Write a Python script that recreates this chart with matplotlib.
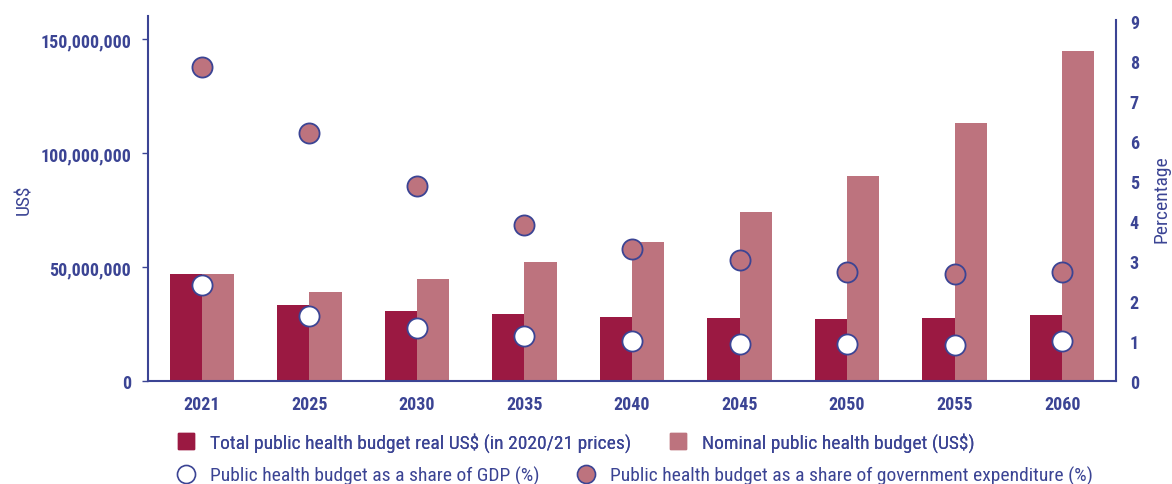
import matplotlib
matplotlib.use("Agg")
import matplotlib.pyplot as plt
from matplotlib.lines import Line2D
import numpy as np

years = ["2021", "2025", "2030", "2035", "2040", "2045", "2050", "2055", "2060"]
real_budget = [46.8e6, 33.2e6, 30.7e6, 29.4e6, 28.1e6, 27.6e6, 27.1e6, 27.5e6, 28.8e6]
nominal_budget = [46.8e6, 38.9e6, 44.7e6, 52.2e6, 61.0e6, 74.1e6, 89.8e6, 113.0e6, 144.6e6]
share_gdp = [2.39, 1.63, 1.33, 1.13, 1.01, 0.92, 0.92, 0.90, 0.99]
share_gov = [7.85, 6.19, 4.87, 3.89, 3.30, 3.03, 2.73, 2.67, 2.73]
left_ticks = [0, 50e6, 100e6, 150e6]
left_ticklabels = ["0", "50,000,000", "100,000,000", "150,000,000"]

NAVY = "#3b4494"
DARK = "#9b1942"
LIGHT = "#bd737e"
FONT = ["Liberation Sans Narrow", "Roboto Condensed", "DejaVu Sans"]
plt.rcParams["font.family"] = FONT

fig = plt.figure(figsize=(11.72, 4.85), dpi=100)
ax = fig.add_axes([0.1263, 0.2124, 0.8259, 0.7526])

x = np.arange(len(years))
w = 0.30
ax.bar(x - w / 2, real_budget, width=w, color=DARK, zorder=2)
ax.bar(x + w / 2, nominal_budget, width=w, color=LIGHT, zorder=2)

ax.set_xlim(-0.5, len(years) - 0.5)
ax.set_ylim(0, 160.1e6)
ax.set_yticks(left_ticks)
ax.set_yticklabels(left_ticklabels, fontweight="bold", fontsize=13, color=NAVY)
ax.set_xticks(x)
ax.set_xticklabels(years, fontweight="bold", fontsize=13, color=NAVY)
ax.tick_params(axis="y", length=4, width=1, color=NAVY, pad=8)
ax.tick_params(axis="x", length=3, width=0.6, color="#bbbbbb", pad=10, direction="in")
for s in ["top", "right"]:
    ax.spines[s].set_visible(False)
for s in ["left", "bottom"]:
    ax.spines[s].set_color(NAVY)
    ax.spines[s].set_linewidth(1.5)
ax.set_ylabel("US$", fontsize=14, color=NAVY, labelpad=5)

ax2 = ax.twinx()
ax2.set_ylim(0, 9.125)
ax2.set_yticks(range(10))
ax2.set_yticklabels([str(i) for i in range(10)], fontweight="bold", fontsize=13, color=NAVY)
ax2.tick_params(axis="y", length=0, pad=10)
for s in ["top", "left", "bottom"]:
    ax2.spines[s].set_visible(False)
ax2.spines["right"].set_color(NAVY)
ax2.spines["right"].set_linewidth(1.5)
ax2.spines["right"].set_bounds(0, 9.03)
ax2.set_ylabel("Percentage", fontsize=14, color=NAVY, labelpad=10)

ms = 14.5
ax2.plot(x, share_gdp, linestyle="none", marker="o", markersize=ms,
         markerfacecolor="white", markeredgecolor=NAVY, markeredgewidth=1.3, zorder=3)
ax2.plot(x, share_gov, linestyle="none", marker="o", markersize=ms,
         markerfacecolor=LIGHT, markeredgecolor=NAVY, markeredgewidth=1.3, zorder=3)

row1 = [
    Line2D([], [], linestyle="none", marker="s", markersize=12, markerfacecolor=DARK, markeredgecolor=DARK),
    Line2D([], [], linestyle="none", marker="s", markersize=12, markerfacecolor=LIGHT, markeredgecolor=LIGHT),
]
row2 = [
    Line2D([], [], linestyle="none", marker="o", markersize=13, markerfacecolor="white", markeredgecolor=NAVY, markeredgewidth=1.2),
    Line2D([], [], linestyle="none", marker="o", markersize=13, markerfacecolor=LIGHT, markeredgecolor=NAVY, markeredgewidth=1.2),
]
leg_kw = dict(ncol=2, frameon=False, fontsize=14, handlelength=1.0, handletextpad=0.75,
              columnspacing=1.9, borderpad=0, borderaxespad=0, labelcolor=NAVY)
leg1 = fig.legend(row1, ["Total public health budget real US$ (in 2020/21 prices)",
                         "Nominal public health budget (US$)"],
                  loc="center left", bbox_to_anchor=(0.150, (485 - 443) / 485), **leg_kw)
fig.add_artist(leg1)
fig.legend(row2, ["Public health budget as a share of GDP (%)",
                  "Public health budget as a share of government expenditure (%)"],
           loc="center left", bbox_to_anchor=(0.150, (485 - 476) / 485), **leg_kw)

fig.savefig("out.png", dpi=100)
